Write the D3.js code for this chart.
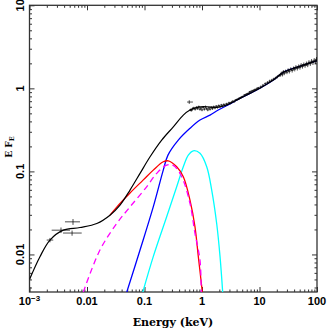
<!DOCTYPE html>
<html>
<head>
<meta charset="utf-8">
<script src="https://cdn.jsdelivr.net/npm/d3@7.9.0/dist/d3.min.js"></script>
<style>
  body { margin: 0; background: #fff; }
  svg { display: block; }
</style>
</head>
<body>
<div id="chart"></div>
<script>
// model components, [energy keV, E F_E]
const totalModel = [
  [0.001, 0.0050], [0.00152, 0.0094], [0.00227, 0.0149], [0.00387, 0.0196], [0.00755, 0.0211],
  [0.0148, 0.0236], [0.0251, 0.0297], [0.0375, 0.0393], [0.056, 0.0596], [0.0836, 0.0946],
  [0.125, 0.150], [0.199, 0.238], [0.317, 0.344], [0.473, 0.476], [0.618, 0.548],
  [0.863, 0.595], [1.21, 0.600], [1.80, 0.590], [2.69, 0.630], [4.58, 0.758],
  [8.93, 0.955], [17.4, 1.26], [25.9, 1.56], [44.4, 1.79], [86.3, 2.09], [100, 2.16]
];
const powerlaw = [
  [0.049, 0.0035], [0.0836, 0.0113], [0.142, 0.0374], [0.212, 0.1036], [0.256, 0.157],
  [0.387, 0.238], [0.618, 0.330], [0.923, 0.415], [1.377, 0.476], [1.92, 0.548], [3.07, 0.650],
  [4.58, 0.758], [8.93, 0.955], [17.4, 1.26], [25.9, 1.56], [44.4, 1.79], [86.3, 2.09], [100, 2.16]
];
const softComp = [
  [0.0251, 0.0297], [0.0329, 0.0372], [0.056, 0.0550], [0.0953, 0.0790], [0.142, 0.1036],
  [0.212, 0.1306], [0.259, 0.134], [0.363, 0.1136], [0.473, 0.0861], [0.618, 0.0451],
  [0.755, 0.0215], [0.863, 0.0094], [0.989, 0.0041], [1.03, 0.0030]
];
const diskComp = [
  [0.0086, 0.0035], [0.0168, 0.0113], [0.0329, 0.0236], [0.056, 0.0374], [0.109, 0.0652],
  [0.163, 0.0946], [0.243, 0.119], [0.317, 0.118], [0.444, 0.0861], [0.618, 0.0411],
  [0.755, 0.0179], [0.923, 0.0085], [0.97, 0.0035]
];
const bbComp = [
  [0.0932, 0.0035], [0.142, 0.0094], [0.243, 0.0284], [0.363, 0.0652], [0.473, 0.1136],
  [0.578, 0.157], [0.706, 0.177], [0.923, 0.165], [1.208, 0.1136], [1.475, 0.0596],
  [1.80, 0.0236], [2.06, 0.0094], [2.29, 0.0035]
];

// binned points with explicit energy range: [E, F, Elo, Ehi, dF]
const uvData = [
  [0.00227, 0.0149, 0.00199, 0.00259, 0.0009],
  [0.00353, 0.0196, 0.00243, 0.00506, 0.0015],
  [0.00571, 0.0247, 0.00414, 0.00755, 0.0020],
  [0.00550, 0.0181, 0.00383, 0.00809, 0.0013],
  [0.60, 0.684, 0.55, 0.695, 0.035]
];

// X-ray points: [E, F, dF]
const xrayData = [
  [0.63, 0.55, 0.02], [0.66, 0.545, 0.02], [0.69, 0.57, 0.02], [0.72, 0.58, 0.02], [0.76, 0.56, 0.02],
  [0.80, 0.59, 0.02], [0.84, 0.57, 0.02], [0.88, 0.60, 0.02], [0.92, 0.56, 0.02], [0.96, 0.58, 0.02],
  [1.00, 0.55, 0.02], [1.05, 0.59, 0.02], [1.10, 0.56, 0.02], [1.15, 0.60, 0.02], [1.20, 0.57, 0.02],
  [1.26, 0.55, 0.02], [1.32, 0.58, 0.02], [1.38, 0.56, 0.02], [1.45, 0.59, 0.02], [1.52, 0.57, 0.02],
  [1.60, 0.60, 0.02], [1.68, 0.58, 0.02], [1.77, 0.61, 0.02], [1.86, 0.59, 0.02], [1.96, 0.62, 0.02],
  [2.06, 0.60, 0.02], [2.17, 0.63, 0.02], [2.28, 0.61, 0.02], [2.40, 0.64, 0.02], [2.53, 0.62, 0.02],
  [2.66, 0.65, 0.02], [2.80, 0.64, 0.02], [2.95, 0.67, 0.02], [3.10, 0.66, 0.02], [3.27, 0.68, 0.02],
  [3.44, 0.70, 0.02], [3.62, 0.69, 0.02], [3.81, 0.72, 0.02], [4.01, 0.73, 0.02], [4.22, 0.74, 0.02],
  [4.44, 0.76, 0.02], [4.68, 0.77, 0.02], [4.93, 0.79, 0.02], [5.19, 0.80, 0.02], [5.46, 0.83, 0.02],
  [5.75, 0.84, 0.02], [6.05, 0.86, 0.02], [6.37, 0.87, 0.02], [6.71, 0.90, 0.03], [7.06, 0.91, 0.03],
  [7.43, 0.93, 0.03], [7.82, 0.94, 0.03], [8.24, 0.96, 0.03], [8.67, 0.97, 0.03], [9.13, 1.00, 0.03],
  [9.60, 1.01, 0.03], [10.5, 1.04, 0.04], [11.5, 1.09, 0.04], [12.6, 1.14, 0.04], [13.8, 1.18, 0.04],
  [15.0, 1.22, 0.05], [16.3, 1.25, 0.05], [17.6, 1.29, 0.05], [19.0, 1.33, 0.05], [20.5, 1.38, 0.06],
  [22.0, 1.43, 0.06], [23.0, 1.45, 0.07], [24.0, 1.52, 0.07], [25.0, 1.46, 0.07], [26.0, 1.58, 0.08],
  [27.0, 1.52, 0.08], [28.5, 1.60, 0.08], [30.0, 1.56, 0.08], [31.5, 1.66, 0.08], [33.0, 1.60, 0.09],
  [35.0, 1.70, 0.09], [37.0, 1.64, 0.09], [39.0, 1.74, 0.09], [41.0, 1.70, 0.10], [43.0, 1.80, 0.10],
  [45.5, 1.74, 0.10], [48.0, 1.84, 0.10], [50.5, 1.78, 0.10], [53.0, 1.90, 0.11], [56.0, 1.84, 0.11],
  [59.0, 1.94, 0.11], [62.0, 1.88, 0.11], [65.5, 1.98, 0.12], [69.0, 1.92, 0.12], [72.5, 2.06, 0.12],
  [76.5, 1.98, 0.12], [80.5, 2.12, 0.13], [85.0, 2.04, 0.13], [89.5, 2.18, 0.13], [94.0, 2.10, 0.14],
  [98.0, 2.24, 0.14]
];

const xTickValues = [0.001, 0.01, 0.1, 1, 10, 100];
const xTickLabels = ["10-3", "0.01", "0.1", "1", "10", "100"];
const yTickValues = [0.01, 0.1, 1, 10];
const yTickLabels = ["0.01", "0.1", "1", "10"];

const W = 327, H = 329;
const plot = { left: 29.5, right: 317, top: 5.3, bottom: 292 };

const x = d3.scaleLog().domain([0.001, 100]).range([plot.left, plot.right]);
const y = d3.scaleLog().domain([0.00353, 10]).range([plot.bottom, plot.top]);

const svg = d3.select("#chart").append("svg")
  .attr("width", W)
  .attr("height", H);

svg.append("clipPath").attr("id", "clip")
  .append("rect")
  .attr("x", plot.left).attr("y", plot.top)
  .attr("width", plot.right - plot.left)
  .attr("height", plot.bottom - plot.top);

// minor tick positions
const xMinor = [];
for (let d = -3; d < 2; d++) for (let k = 2; k < 10; k++) xMinor.push(k * Math.pow(10, d));
const yMinor = [];
for (let d = -3; d < 1; d++) for (let k = 2; k < 10; k++) {
  const v = k * Math.pow(10, d);
  if (v > 0.00353) yMinor.push(v);
}

const axisColor = "#333";
const major = 5, minor = 2.5;

// bottom + top axes
svg.append("g").attr("transform", `translate(0,${plot.bottom})`)
  .call(d3.axisBottom(x).tickValues(xTickValues).tickSizeInner(-major).tickSizeOuter(0).tickFormat(""));
svg.append("g").attr("transform", `translate(0,${plot.top})`)
  .call(d3.axisTop(x).tickValues(xTickValues).tickSizeInner(-major).tickSizeOuter(0).tickFormat(""));
svg.append("g").attr("transform", `translate(0,${plot.bottom})`)
  .call(d3.axisBottom(x).tickValues(xMinor).tickSizeInner(-minor).tickSizeOuter(0).tickFormat(""));
svg.append("g").attr("transform", `translate(0,${plot.top})`)
  .call(d3.axisTop(x).tickValues(xMinor).tickSizeInner(-minor).tickSizeOuter(0).tickFormat(""));

// left + right axes
svg.append("g").attr("transform", `translate(${plot.left},0)`)
  .call(d3.axisLeft(y).tickValues(yTickValues).tickSizeInner(-major).tickSizeOuter(0).tickFormat(""));
svg.append("g").attr("transform", `translate(${plot.right},0)`)
  .call(d3.axisRight(y).tickValues(yTickValues).tickSizeInner(-major).tickSizeOuter(0).tickFormat(""));
svg.append("g").attr("transform", `translate(${plot.left},0)`)
  .call(d3.axisLeft(y).tickValues(yMinor).tickSizeInner(-minor).tickSizeOuter(0).tickFormat(""));
svg.append("g").attr("transform", `translate(${plot.right},0)`)
  .call(d3.axisRight(y).tickValues(yMinor).tickSizeInner(-minor).tickSizeOuter(0).tickFormat(""));

svg.selectAll(".domain").remove();
svg.selectAll(".tick line").attr("stroke", axisColor).attr("stroke-width", 1);

// frame
svg.append("rect")
  .attr("x", plot.left).attr("y", plot.top)
  .attr("width", plot.right - plot.left)
  .attr("height", plot.bottom - plot.top)
  .attr("fill", "none")
  .attr("stroke", axisColor)
  .attr("stroke-width", 1.3);

// tick labels
const labelFont = "'Liberation Sans', Arial, sans-serif";
xTickValues.forEach((v, i) => {
  const t = svg.append("text")
    .attr("x", x(v))
    .attr("y", 305)
    .attr("text-anchor", "middle")
    .attr("font-family", labelFont)
    .attr("font-weight", "bold")
    .attr("font-size", 11)
    .attr("fill", "#000");
  if (i === 0) {
    t.append("tspan").text("10");
    t.append("tspan").attr("dy", -4).attr("font-size", 8).text("\u22123");
  } else {
    t.text(xTickLabels[i]);
  }
});

yTickValues.forEach((v, i) => {
  svg.append("text")
    .attr("transform", `translate(23.5,${y(v)}) rotate(-90)`)
    .attr("text-anchor", "middle")
    .attr("font-family", labelFont)
    .attr("font-weight", "bold")
    .attr("font-size", 11)
    .attr("fill", "#000")
    .text(yTickLabels[i]);
});

// axis titles
const titleFont = "'DejaVu Serif', 'Liberation Serif', serif";
svg.append("text")
  .attr("x", 173)
  .attr("y", 325.5)
  .attr("text-anchor", "middle")
  .attr("font-family", titleFont)
  .attr("font-weight", "bold")
  .attr("font-size", 11)
  .text("Energy (keV)");

const yTitle = svg.append("text")
  .attr("transform", "translate(11.5,147) rotate(-90)")
  .attr("text-anchor", "middle")
  .attr("font-family", titleFont)
  .attr("font-weight", "bold")
  .attr("font-size", 9);
yTitle.append("tspan").text("E F");
yTitle.append("tspan").attr("dy", 2.5).attr("font-size", 6.5).text("E");

// curves
const line = d3.line()
  .x(d => x(d[0]))
  .y(d => y(d[1]))
  .curve(d3.curveCatmullRom.alpha(0.5));

const curves = svg.append("g").attr("clip-path", "url(#clip)");

curves.append("path").datum(bbComp)
  .attr("d", line).attr("fill", "none").attr("stroke", "#00ffff").attr("stroke-width", 1.3);
curves.append("path").datum(powerlaw)
  .attr("d", line).attr("fill", "none").attr("stroke", "#0000ff").attr("stroke-width", 1.3);
curves.append("path").datum(softComp)
  .attr("d", line).attr("fill", "none").attr("stroke", "#ff0000").attr("stroke-width", 1.3);
curves.append("path").datum(diskComp)
  .attr("d", line).attr("fill", "none").attr("stroke", "#ff00ff").attr("stroke-width", 1.3)
  .attr("stroke-dasharray", "6,4");

// data crosses
const pts = svg.append("g").attr("clip-path", "url(#clip)")
  .attr("stroke", "#000").attr("stroke-width", 0.7);

uvData.forEach(d => {
  pts.append("line").attr("x1", x(d[2])).attr("x2", x(d[3])).attr("y1", y(d[1])).attr("y2", y(d[1]));
  pts.append("line").attr("x1", x(d[0])).attr("x2", x(d[0])).attr("y1", y(d[1] - d[4])).attr("y2", y(d[1] + d[4]));
});

xrayData.forEach(d => {
  pts.append("line").attr("x1", x(d[0]) - 1.2).attr("x2", x(d[0]) + 1.2).attr("y1", y(d[1])).attr("y2", y(d[1]));
  pts.append("line").attr("x1", x(d[0])).attr("x2", x(d[0])).attr("y1", y(d[1] - d[2])).attr("y2", y(d[1] + d[2]));
});

curves.append("path").datum(totalModel)
  .attr("d", line).attr("fill", "none").attr("stroke", "#000").attr("stroke-width", 1.2);
</script>
</body>
</html>
